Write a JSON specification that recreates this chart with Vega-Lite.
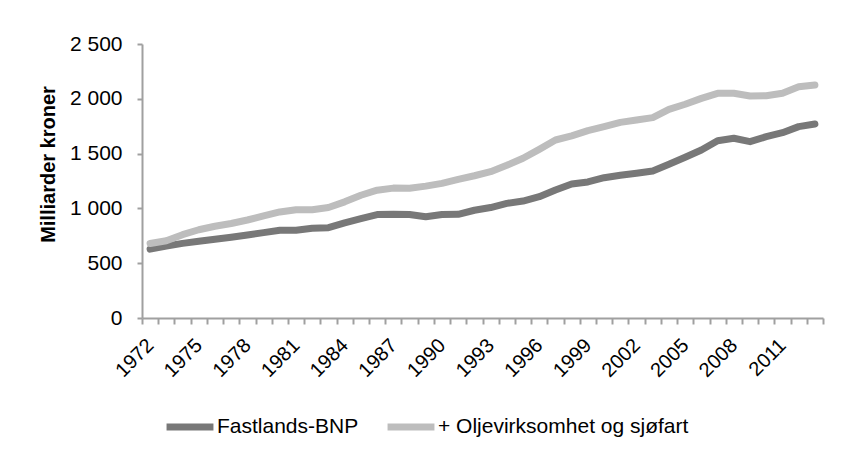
{
  "$schema": "https://vega.github.io/schema/vega-lite/v6.json",
  "autosize": "none",
  "width": 681,
  "height": 274,
  "padding": {"left": 142, "top": 44, "right": 19, "bottom": 134},
  "background": "white",
  "config": {"view": {"stroke": null}, "font": "Liberation Sans"},
  "data": {"values": [
    {"year": 1972, "s": "Fastlands-BNP", "v": 628}, {"year": 1972, "s": "+ Oljevirksomhet og sjøfart", "v": 680},
    {"year": 1973, "s": "Fastlands-BNP", "v": 657}, {"year": 1973, "s": "+ Oljevirksomhet og sjøfart", "v": 705},
    {"year": 1974, "s": "Fastlands-BNP", "v": 681}, {"year": 1974, "s": "+ Oljevirksomhet og sjøfart", "v": 760},
    {"year": 1975, "s": "Fastlands-BNP", "v": 700}, {"year": 1975, "s": "+ Oljevirksomhet og sjøfart", "v": 805},
    {"year": 1976, "s": "Fastlands-BNP", "v": 718}, {"year": 1976, "s": "+ Oljevirksomhet og sjøfart", "v": 837},
    {"year": 1977, "s": "Fastlands-BNP", "v": 736}, {"year": 1977, "s": "+ Oljevirksomhet og sjøfart", "v": 862},
    {"year": 1978, "s": "Fastlands-BNP", "v": 757}, {"year": 1978, "s": "+ Oljevirksomhet og sjøfart", "v": 894},
    {"year": 1979, "s": "Fastlands-BNP", "v": 779}, {"year": 1979, "s": "+ Oljevirksomhet og sjøfart", "v": 931},
    {"year": 1980, "s": "Fastlands-BNP", "v": 800}, {"year": 1980, "s": "+ Oljevirksomhet og sjøfart", "v": 968},
    {"year": 1981, "s": "Fastlands-BNP", "v": 800}, {"year": 1981, "s": "+ Oljevirksomhet og sjøfart", "v": 988},
    {"year": 1982, "s": "Fastlands-BNP", "v": 818}, {"year": 1982, "s": "+ Oljevirksomhet og sjøfart", "v": 988},
    {"year": 1983, "s": "Fastlands-BNP", "v": 824}, {"year": 1983, "s": "+ Oljevirksomhet og sjøfart", "v": 1008},
    {"year": 1984, "s": "Fastlands-BNP", "v": 868}, {"year": 1984, "s": "+ Oljevirksomhet og sjøfart", "v": 1060},
    {"year": 1985, "s": "Fastlands-BNP", "v": 907}, {"year": 1985, "s": "+ Oljevirksomhet og sjøfart", "v": 1120},
    {"year": 1986, "s": "Fastlands-BNP", "v": 944}, {"year": 1986, "s": "+ Oljevirksomhet og sjøfart", "v": 1166},
    {"year": 1987, "s": "Fastlands-BNP", "v": 946}, {"year": 1987, "s": "+ Oljevirksomhet og sjøfart", "v": 1185},
    {"year": 1988, "s": "Fastlands-BNP", "v": 944}, {"year": 1988, "s": "+ Oljevirksomhet og sjøfart", "v": 1183},
    {"year": 1989, "s": "Fastlands-BNP", "v": 924}, {"year": 1989, "s": "+ Oljevirksomhet og sjøfart", "v": 1203},
    {"year": 1990, "s": "Fastlands-BNP", "v": 944}, {"year": 1990, "s": "+ Oljevirksomhet og sjøfart", "v": 1228},
    {"year": 1991, "s": "Fastlands-BNP", "v": 946}, {"year": 1991, "s": "+ Oljevirksomhet og sjøfart", "v": 1265},
    {"year": 1992, "s": "Fastlands-BNP", "v": 983}, {"year": 1992, "s": "+ Oljevirksomhet og sjøfart", "v": 1298},
    {"year": 1993, "s": "Fastlands-BNP", "v": 1008}, {"year": 1993, "s": "+ Oljevirksomhet og sjøfart", "v": 1335},
    {"year": 1994, "s": "Fastlands-BNP", "v": 1046}, {"year": 1994, "s": "+ Oljevirksomhet og sjøfart", "v": 1393},
    {"year": 1995, "s": "Fastlands-BNP", "v": 1067}, {"year": 1995, "s": "+ Oljevirksomhet og sjøfart", "v": 1457},
    {"year": 1996, "s": "Fastlands-BNP", "v": 1107}, {"year": 1996, "s": "+ Oljevirksomhet og sjøfart", "v": 1539},
    {"year": 1997, "s": "Fastlands-BNP", "v": 1168}, {"year": 1997, "s": "+ Oljevirksomhet og sjøfart", "v": 1624},
    {"year": 1998, "s": "Fastlands-BNP", "v": 1223}, {"year": 1998, "s": "+ Oljevirksomhet og sjøfart", "v": 1661},
    {"year": 1999, "s": "Fastlands-BNP", "v": 1241}, {"year": 1999, "s": "+ Oljevirksomhet og sjøfart", "v": 1709},
    {"year": 2000, "s": "Fastlands-BNP", "v": 1280}, {"year": 2000, "s": "+ Oljevirksomhet og sjøfart", "v": 1746},
    {"year": 2001, "s": "Fastlands-BNP", "v": 1302}, {"year": 2001, "s": "+ Oljevirksomhet og sjøfart", "v": 1785},
    {"year": 2002, "s": "Fastlands-BNP", "v": 1320}, {"year": 2002, "s": "+ Oljevirksomhet og sjøfart", "v": 1807},
    {"year": 2003, "s": "Fastlands-BNP", "v": 1341}, {"year": 2003, "s": "+ Oljevirksomhet og sjøfart", "v": 1828},
    {"year": 2004, "s": "Fastlands-BNP", "v": 1402}, {"year": 2004, "s": "+ Oljevirksomhet og sjøfart", "v": 1904},
    {"year": 2005, "s": "Fastlands-BNP", "v": 1466}, {"year": 2005, "s": "+ Oljevirksomhet og sjøfart", "v": 1950},
    {"year": 2006, "s": "Fastlands-BNP", "v": 1533}, {"year": 2006, "s": "+ Oljevirksomhet og sjøfart", "v": 2004},
    {"year": 2007, "s": "Fastlands-BNP", "v": 1618}, {"year": 2007, "s": "+ Oljevirksomhet og sjøfart", "v": 2050},
    {"year": 2008, "s": "Fastlands-BNP", "v": 1640}, {"year": 2008, "s": "+ Oljevirksomhet og sjøfart", "v": 2050},
    {"year": 2009, "s": "Fastlands-BNP", "v": 1609}, {"year": 2009, "s": "+ Oljevirksomhet og sjøfart", "v": 2026},
    {"year": 2010, "s": "Fastlands-BNP", "v": 1654}, {"year": 2010, "s": "+ Oljevirksomhet og sjøfart", "v": 2028},
    {"year": 2011, "s": "Fastlands-BNP", "v": 1691}, {"year": 2011, "s": "+ Oljevirksomhet og sjøfart", "v": 2050},
    {"year": 2012, "s": "Fastlands-BNP", "v": 1746}, {"year": 2012, "s": "+ Oljevirksomhet og sjøfart", "v": 2110},
    {"year": 2013, "s": "Fastlands-BNP", "v": 1770}, {"year": 2013, "s": "+ Oljevirksomhet og sjøfart", "v": 2126}
  ]},
  "mark": {"type": "line", "strokeWidth": 7, "strokeCap": "round", "strokeJoin": "round"},
  "encoding": {
    "x": {
      "field": "year", "type": "ordinal", "bandPosition": 0.5,
      "scale": {"type": "band", "paddingInner": 0, "paddingOuter": 0},
      "axis": {
        "title": null, "tickBand": "extent", "labelAngle": -45, "labelAlign": "right", "labelBaseline": "middle",
        "labelExpr": "(datum.value - 1972) % 3 == 0 ? datum.label : ''",
        "labelOverlap": false, "labelFontSize": 20, "labelColor": "#000000", "labelPadding": 18, "labelDx": 4,
        "domainColor": "#a0a0a0", "domainWidth": 2, "tickColor": "#a0a0a0", "tickWidth": 2, "tickSize": 6
      }
    },
    "y": {
      "field": "v", "type": "quantitative",
      "scale": {"domain": [0, 2500], "nice": false},
      "axis": {
        "title": "Milliarder kroner", "titleFontSize": 20, "titleFontWeight": "bold", "titleColor": "#000000",
        "titleAngle": -90, "titleX": -94, "titleY": 120, "titleAlign": "center", "titleBaseline": "middle",
        "values": [0, 500, 1000, 1500, 2000, 2500], "grid": false,
        "labelExpr": "replace(format(datum.value, ',d'), ',', ' ')",
        "labelFontSize": 21, "labelColor": "#000000", "labelPadding": 15,
        "domainColor": "#a0a0a0", "domainWidth": 2, "tickColor": "#a0a0a0", "tickWidth": 2, "tickSize": 5
      }
    },
    "color": {
      "field": "s", "type": "nominal",
      "scale": {"domain": ["Fastlands-BNP", "+ Oljevirksomhet og sjøfart"], "range": ["#787878", "#bdbdbd"]},
      "legend": {
        "title": null, "orient": "none", "direction": "horizontal", "legendX": 21, "legendY": 356,
        "symbolType": "stroke", "symbolSize": 2200, "symbolStrokeWidth": 7, "labelFontSize": 21,
        "labelColor": "#000000", "labelOffset": 0, "columnPadding": 14, "labelLimit": 400
      }
    }
  }
}
